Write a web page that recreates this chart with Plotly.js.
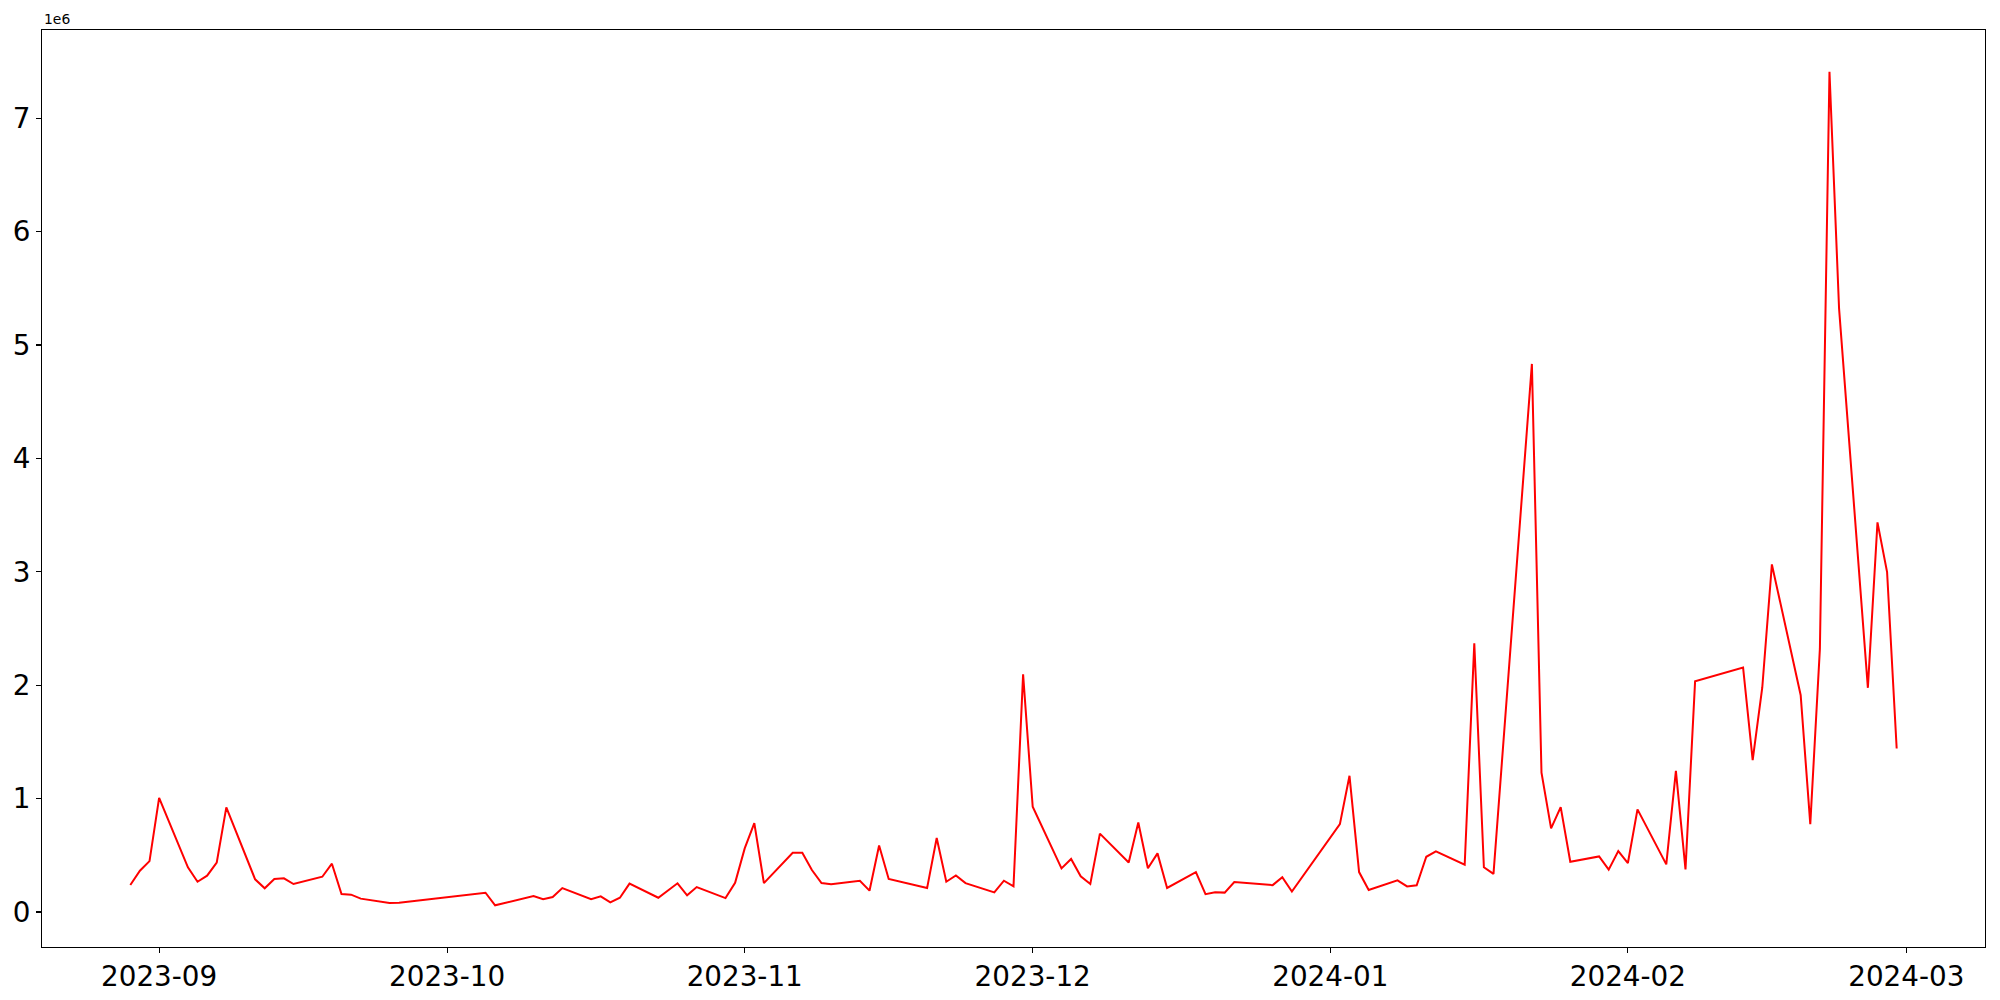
<!DOCTYPE html>
<html>
<head>
<meta charset="utf-8">
<script src="https://cdn.plot.ly/plotly-3.0.1.min.js"></script>
<style>
  html, body { margin: 0; padding: 0; background: #fff; }
  #chart { width: 2000px; height: 1000px; }
</style>
</head>
<body>
<div id="chart"></div>
<script>
const dates = [
  "2023-08-29","2023-08-30","2023-08-31","2023-09-01","2023-09-04","2023-09-05","2023-09-06","2023-09-07","2023-09-08",
  "2023-09-11","2023-09-12","2023-09-13","2023-09-14","2023-09-15","2023-09-18","2023-09-19","2023-09-20","2023-09-21",
  "2023-09-22","2023-09-25","2023-09-26","2023-10-05","2023-10-06","2023-10-10","2023-10-11","2023-10-12","2023-10-13",
  "2023-10-16","2023-10-17","2023-10-18","2023-10-19","2023-10-20","2023-10-23","2023-10-25","2023-10-26","2023-10-27",
  "2023-10-30","2023-10-31","2023-11-01","2023-11-02","2023-11-03","2023-11-06","2023-11-07","2023-11-08","2023-11-09",
  "2023-11-10","2023-11-13","2023-11-14","2023-11-15","2023-11-16","2023-11-20","2023-11-21","2023-11-22","2023-11-23",
  "2023-11-24","2023-11-27","2023-11-28","2023-11-29","2023-11-30","2023-12-01","2023-12-04","2023-12-05","2023-12-06",
  "2023-12-07","2023-12-08","2023-12-11","2023-12-12","2023-12-13","2023-12-14","2023-12-15","2023-12-18","2023-12-19",
  "2023-12-20","2023-12-21","2023-12-22","2023-12-26","2023-12-27","2023-12-28","2024-01-02","2024-01-03","2024-01-04",
  "2024-01-05","2024-01-08","2024-01-09","2024-01-10","2024-01-11","2024-01-12","2024-01-15","2024-01-16","2024-01-17",
  "2024-01-18","2024-01-22","2024-01-23","2024-01-24","2024-01-25","2024-01-26","2024-01-29","2024-01-30","2024-01-31",
  "2024-02-01","2024-02-02","2024-02-05","2024-02-06","2024-02-07","2024-02-08","2024-02-13","2024-02-14","2024-02-15",
  "2024-02-16","2024-02-19","2024-02-20","2024-02-21","2024-02-22","2024-02-23","2024-02-26","2024-02-27","2024-02-28",
  "2024-02-29"
];

const volumes = [
  238000, 364000, 449000, 1007000, 394000, 267000, 320000, 435000, 922000,
  288000, 209000, 291000, 297000, 247000, 311000, 426000, 159000, 153000,
  118000, 79000, 82000, 170000, 59000, 141000, 112000, 132000, 211000,
  112000, 138000, 85000, 126000, 250000, 126000, 253000, 147000, 220000,
  123000, 258000, 561000, 784000, 255000, 523000, 523000, 370000, 255000,
  244000, 276000, 188000, 587000, 291000, 211000, 652000, 267000, 323000,
  255000, 173000, 276000, 226000, 2095000, 928000, 385000, 468000, 315000,
  247000, 691000, 436000, 790000, 386000, 517000, 212000, 351000, 157000,
  175000, 171000, 264000, 237000, 306000, 180000, 775000, 1201000, 352000,
  194000, 279000, 226000, 235000, 487000, 534000, 417000, 2370000, 394000,
  336000, 4833000, 1228000, 737000, 925000, 443000, 490000, 373000, 537000,
  432000, 905000, 420000, 1245000, 376000, 2034000, 2156000, 1339000, 1980000,
  3065000, 1912000, 775000, 2320000, 7410000, 5320000, 1977000, 3436000, 2998000,
  1442000
];

const yTickValues = [0, 1000000, 2000000, 3000000, 4000000, 5000000, 6000000, 7000000];
const yTickLabels = ["0", "1", "2", "3", "4", "5", "6", "7"];
const offsetLabel = "1e6";

const font = "DejaVu Sans, Liberation Sans, sans-serif";

const trace = {
  x: dates,
  y: volumes,
  type: "scatter",
  mode: "lines",
  line: { color: "#ff0000", width: 2 },
  hoverinfo: "x+y"
};

const layout = {
  width: 2000,
  height: 1000,
  paper_bgcolor: "#ffffff",
  plot_bgcolor: "#ffffff",
  showlegend: false,
  margin: { l: 42, r: 15, t: 30, b: 53, pad: 0 },
  font: { family: font, color: "#000000" },
  xaxis: {
    type: "date",
    range: ["2023-08-19 19:12", "2024-03-09 04:48"],
    tick0: "2023-09-01",
    dtick: "M1",
    tickformat: "%Y-%m",
    ticks: "outside",
    ticklen: 5,
    tickwidth: 1.1,
    tickcolor: "#000",
    tickfont: { family: font, size: 27.8, color: "#000" },
    showgrid: false,
    zeroline: false,
    showline: true,
    linecolor: "#000",
    linewidth: 1.1,
    mirror: true
  },
  yaxis: {
    range: [-308600, 7777600],
    tickmode: "array",
    tickvals: yTickValues,
    ticktext: yTickLabels,
    ticks: "outside",
    ticklen: 5,
    tickwidth: 1.1,
    tickcolor: "#000",
    tickfont: { family: font, size: 27.8, color: "#000" },
    showgrid: false,
    zeroline: false,
    showline: true,
    linecolor: "#000",
    linewidth: 1.1,
    mirror: true
  },
  annotations: [{
    text: offsetLabel,
    xref: "paper", yref: "paper",
    x: 0, y: 1,
    xanchor: "left", yanchor: "bottom",
    yshift: 1,
    showarrow: false,
    font: { family: font, size: 13.9, color: "#000" }
  }]
};

Plotly.newPlot("chart", [trace], layout, { staticPlot: true, displayModeBar: false });
</script>
</body>
</html>
